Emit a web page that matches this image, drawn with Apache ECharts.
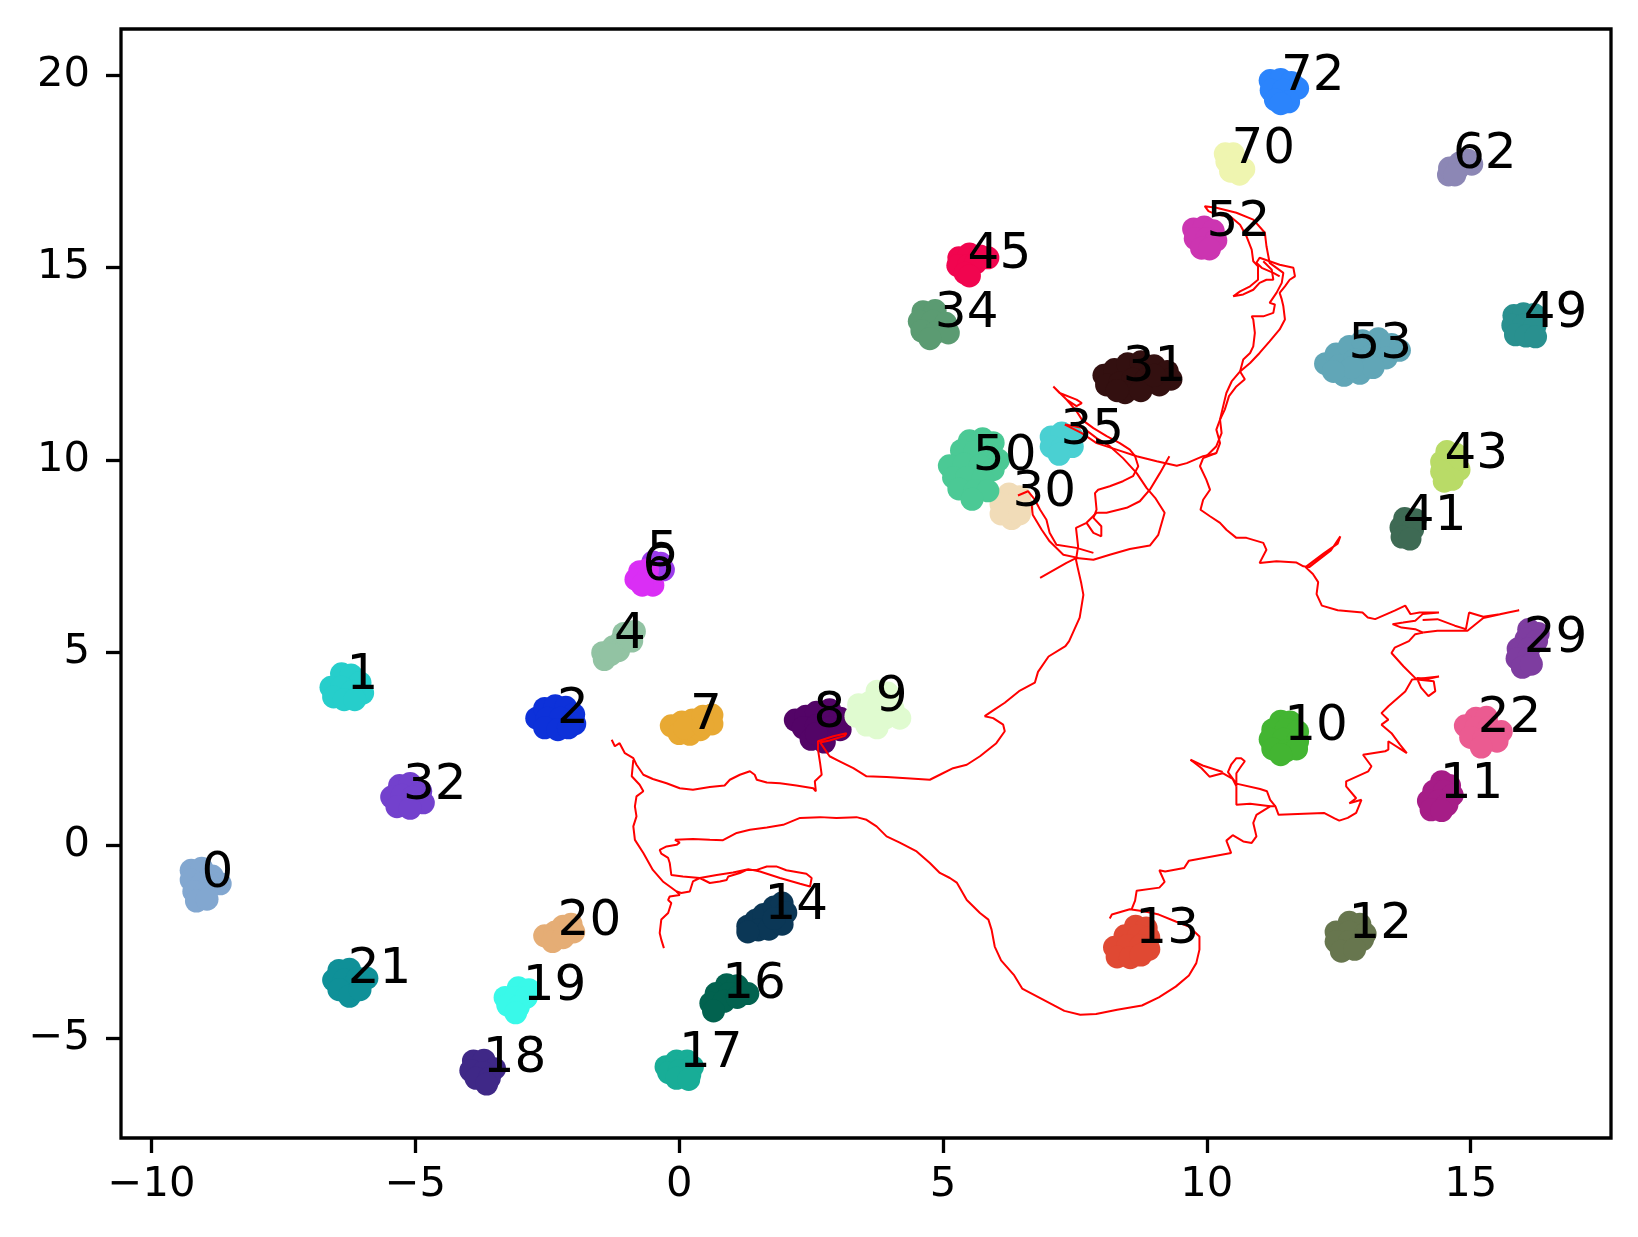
<!DOCTYPE html>
<html>
<head>
<meta charset="utf-8">
<script src="https://cdn.jsdelivr.net/npm/echarts@6/dist/echarts.min.js"></script>
<style>
html,body{margin:0;padding:0;background:#ffffff;}
#chart{width:1638px;height:1237px;}
</style>
</head>
<body>
<div id="chart"></div>
<script>
// ---------------- data ----------------
const xTicks = [-10, -5, 0, 5, 10, 15];
const yTicks = [-5, 0, 5, 10, 15, 20];

const clusterIds = [0,1,2,4,5,6,7,8,9,10,11,12,13,14,16,17,18,19,20,21,22,29,30,31,32,34,35,41,43,45,49,50,52,53,62,70,72];

const c0 = [[-9.25,-0.65],[-9.05,-0.6],[-8.85,-0.8],[-8.7,-1.0],[-9.25,-0.9],[-9.05,-1.0],[-8.9,-1.05],[-9.2,-1.2],[-9.0,-1.25],[-9.15,-1.45],[-8.95,-1.4]];
const c1 = [[-6.4,4.45],[-6.22,4.42],[-6.05,4.22],[-6.6,4.1],[-6.4,4.1],[-6.2,4.0],[-6.0,3.95],[-6.55,3.85],[-6.35,3.78],[-6.15,3.78]];
const c2 = [[-2.7,3.3],[-2.55,3.55],[-2.35,3.62],[-2.15,3.58],[-2.0,3.4],[-2.5,3.3],[-2.25,3.3],[-1.98,3.15],[-2.55,3.05],[-2.3,3.0],[-2.1,3.05]];
const c4 = [[-1.45,5.0],[-1.42,4.82],[-1.25,5.15],[-1.1,5.3],[-0.95,5.45],[-0.85,5.55],[-1.15,5.05],[-0.9,5.3],[-1.3,4.95],[-1.05,5.5]];
const c5 = [[-0.5,7.35],[-0.35,7.32],[-0.45,7.15],[-0.3,7.15]];
const c6 = [[-0.75,7.1],[-0.6,7.15],[-0.82,6.9],[-0.6,6.92],[-0.5,6.75],[-0.7,6.75]];
const c7 = [[-0.15,3.1],[0.05,3.2],[0.25,3.25],[0.45,3.35],[0.62,3.38],[0.62,3.15],[0.0,2.9],[0.2,2.88],[0.4,3.0],[0.1,3.05],[0.45,3.1]];
const c8 = [[2.2,3.25],[2.4,3.35],[2.6,3.45],[2.85,3.52],[3.05,3.3],[2.35,3.05],[2.6,3.1],[2.85,3.05],[3.05,3.0],[2.5,2.75],[2.75,2.68],[2.6,2.9]];
const c9 = [[3.75,4.0],[3.95,3.95],[3.4,3.65],[3.6,3.7],[3.85,3.6],[4.05,3.55],[3.35,3.35],[3.6,3.35],[3.9,3.3],[4.18,3.3],[3.75,3.05],[3.55,3.12]];
const c10 = [[11.4,3.22],[11.58,3.2],[11.25,3.0],[11.5,3.0],[11.72,2.95],[11.2,2.75],[11.45,2.75],[11.72,2.7],[11.25,2.5],[11.5,2.45],[11.7,2.5],[11.4,2.35]];
const c11 = [[14.45,1.65],[14.6,1.55],[14.3,1.4],[14.5,1.4],[14.65,1.3],[14.2,1.15],[14.4,1.15],[14.55,1.05],[14.25,0.92],[14.45,0.9]];
const c12 = [[12.7,-2.0],[12.9,-2.05],[12.45,-2.25],[12.7,-2.25],[13.0,-2.3],[12.45,-2.5],[12.7,-2.5],[12.95,-2.45],[12.55,-2.75],[12.8,-2.7]];
const c13 = [[8.65,-2.1],[8.85,-2.15],[8.45,-2.35],[8.7,-2.35],[8.9,-2.4],[8.25,-2.65],[8.5,-2.6],[8.75,-2.6],[8.9,-2.7],[8.3,-2.9],[8.55,-2.92],[8.75,-2.85]];
const c14 = [[1.3,-2.1],[1.45,-1.95],[1.6,-1.8],[1.8,-1.6],[1.95,-1.5],[2.02,-1.75],[1.5,-2.2],[1.7,-2.18],[1.95,-2.05],[1.8,-1.9],[1.3,-2.25]];
const c16 = [[0.9,-3.62],[1.1,-3.65],[1.3,-3.85],[0.7,-3.85],[0.95,-3.85],[0.6,-4.1],[0.85,-4.05],[1.1,-3.95],[0.65,-4.3]];
const c17 = [[-0.25,-5.75],[-0.05,-5.6],[0.15,-5.6],[0.25,-5.75],[-0.2,-5.9],[0.0,-5.85],[0.2,-5.95],[-0.05,-6.05],[0.18,-6.08]];
const c18 = [[-3.9,-5.6],[-3.7,-5.58],[-3.5,-5.8],[-3.95,-5.85],[-3.72,-5.9],[-3.85,-6.05],[-3.6,-6.05],[-3.65,-6.2]];
const c19 = [[-3.05,-3.7],[-2.85,-3.75],[-3.3,-3.95],[-3.1,-3.95],[-2.9,-3.95],[-3.25,-4.15],[-3.05,-4.2],[-3.1,-4.35]];
const c20 = [[-2.55,-2.35],[-2.35,-2.25],[-2.2,-2.1],[-2.05,-2.05],[-2.0,-2.25],[-2.4,-2.5],[-2.2,-2.4]];
const c21 = [[-6.45,-3.25],[-6.25,-3.22],[-6.55,-3.5],[-6.35,-3.5],[-6.1,-3.45],[-5.92,-3.45],[-6.45,-3.75],[-6.25,-3.92],[-6.05,-3.75]];
const c22 = [[15.1,3.3],[15.3,3.32],[14.9,3.1],[15.1,3.05],[15.35,3.05],[15.58,2.95],[15.0,2.8],[15.25,2.75],[15.5,2.7],[15.2,2.55]];
const c29 = [[16.1,5.6],[16.28,5.5],[16.05,5.35],[16.25,5.3],[15.9,5.1],[16.1,5.1],[15.88,4.85],[16.1,4.85],[15.98,4.62],[16.15,4.7]];
const c30 = [[6.25,9.12],[6.45,9.05],[6.1,8.85],[6.35,8.85],[6.5,8.8],[6.1,8.6],[6.3,8.48],[6.45,8.6]];
const c31 = [[8.05,12.2],[8.25,12.35],[8.5,12.5],[8.75,12.55],[9.0,12.45],[9.25,12.3],[9.32,12.1],[8.1,11.95],[8.35,12.0],[8.6,12.1],[8.85,12.1],[9.1,11.95],[8.45,11.75],[8.75,11.8],[8.3,11.8],[9.0,12.2]];
const c32 = [[-5.3,1.55],[-5.1,1.6],[-4.9,1.4],[-5.45,1.25],[-5.25,1.3],[-5.05,1.25],[-4.85,1.1],[-5.35,1.0],[-5.1,0.96]];
const c34 = [[4.62,13.85],[4.85,13.88],[4.55,13.6],[4.8,13.6],[5.05,13.55],[4.6,13.35],[4.85,13.3],[5.1,13.3],[4.75,13.15]];
const c35 = [[7.05,10.6],[7.25,10.7],[7.45,10.6],[7.05,10.35],[7.25,10.3],[7.45,10.35],[7.2,10.15]];
const c41 = [[13.75,8.48],[13.95,8.45],[13.68,8.25],[13.9,8.2],[13.7,8.0],[13.85,7.95]];
const c43 = [[14.55,10.22],[14.72,10.15],[14.45,9.95],[14.65,9.9],[14.78,9.75],[14.45,9.7],[14.65,9.5],[14.5,9.45]];
const c45 = [[5.3,15.25],[5.5,15.35],[5.7,15.3],[5.85,15.25],[5.28,15.05],[5.48,15.05],[5.62,15.12],[5.42,14.85],[5.5,14.78]];
const c49 = [[15.82,13.75],[16.0,13.8],[16.2,13.78],[15.8,13.5],[16.0,13.5],[16.22,13.48],[15.85,13.25],[16.05,13.22],[16.23,13.2]];
const c50 = [[5.5,10.5],[5.75,10.55],[5.95,10.45],[5.35,10.25],[5.6,10.2],[5.9,10.2],[6.05,10.0],[5.12,9.85],[5.4,9.9],[5.7,9.85],[5.95,9.75],[5.2,9.55],[5.45,9.55],[5.75,9.5],[5.3,9.25],[5.6,9.2],[5.85,9.2],[5.55,8.98]];
const c52 = [[9.75,16.0],[9.95,16.05],[10.12,15.95],[9.78,15.75],[10.0,15.75],[10.17,15.7],[9.9,15.5],[10.05,15.48]];
const c53 = [[12.25,12.5],[12.45,12.75],[12.7,12.95],[12.95,13.1],[13.25,13.15],[13.5,13.0],[13.65,12.85],[12.5,12.45],[12.8,12.6],[13.1,12.7],[13.4,12.65],[12.6,12.2],[12.9,12.25],[13.15,12.4],[12.75,12.4],[12.4,12.3]];
const c62 = [[14.58,17.4],[14.6,17.58],[14.75,17.55],[14.8,17.72],[14.95,17.78],[15.02,17.68],[14.7,17.4]];
const c70 = [[10.35,17.95],[10.5,17.95],[10.38,17.75],[10.55,17.7],[10.45,17.5],[10.62,17.42],[10.7,17.55]];
const c72 = [[11.2,19.85],[11.4,19.88],[11.6,19.8],[11.72,19.65],[11.22,19.6],[11.45,19.6],[11.3,19.35],[11.55,19.3],[11.4,19.25]];

const clusterPoints = [c0,c1,c2,c4,c5,c6,c7,c8,c9,c10,c11,c12,c13,c14,c16,c17,c18,c19,c20,c21,c22,c29,c30,c31,c32,c34,c35,c41,c43,c45,c49,c50,c52,c53,c62,c70,c72];

// text anchor (left / baseline) of each cluster number
const labelPositions = [
  [-8.96,-1.05],[-6.21,4.07],[-2.22,3.2],[-1.14,5.15],[-0.52,7.28],[-0.6,6.91],[0.3,3.04],[2.64,3.09],[3.82,3.5],
  [11.56,2.77],[14.51,1.26],[12.78,-2.38],[8.74,-2.51],[1.71,-1.88],[0.91,-3.93],[0.09,-5.74],[-3.63,-5.87],
  [-2.87,-3.98],[-2.21,-2.3],[-6.19,-3.55],[15.23,2.96],[16.1,5.04],[6.41,8.83],[8.5,12.07],[-5.14,1.22],
  [4.94,13.49],[7.32,10.43],[13.81,8.22],[14.6,9.83],[5.56,15.02],[16.1,13.49],[5.66,9.78],[10.09,15.85],
  [12.78,12.68],[14.76,17.62],[10.56,17.73],[11.5,19.63]
];

// trajectory pieces
const trajA = [[-1.28,2.74],[-1.22,2.57],[-1.13,2.65],[-1.03,2.39],[-0.87,2.26],[-0.81,2.09],[-0.68,1.83],[-0.5,1.72],[-0.24,1.61],[0.01,1.48],[0.26,1.44],[0.58,1.51],[0.86,1.55],[0.96,1.70],[1.15,1.83],[1.34,1.92],[1.43,1.83],[1.47,1.70],[1.66,1.63],[1.91,1.61],[2.22,1.55],[2.54,1.48],[2.59,1.40],[2.57,1.66],[2.70,1.83],[2.67,2.13],[2.63,2.48],[2.63,2.70],[2.92,2.83],[3.17,2.91],[3.14,2.84],[2.85,2.72],[2.67,2.67],[2.85,2.31],[3.04,2.18],[3.30,2.0],[3.55,1.79],[3.93,1.77],[4.31,1.74],[4.75,1.70],[4.94,1.83],[5.19,2.0],[5.45,2.09],[5.70,2.31],[6.01,2.65],[6.17,2.96],[6.14,3.13],[5.95,3.30],[5.79,3.35],[5.93,3.48],[6.17,3.70],[6.44,4.0],[6.74,4.22],[6.8,4.5],[7.0,4.9],[7.32,5.17],[7.39,5.30],[7.59,5.91],[7.66,6.5],[7.62,6.8],[7.55,7.22],[7.52,7.41],[7.56,7.76],[7.52,8.24],[7.72,8.37],[7.91,8.63],[8.1,8.63],[8.48,8.76],[8.73,8.93],[8.92,9.23],[9.11,9.66],[9.29,10.1]];
const trajB = [[-0.87,2.22],[-0.9,1.79],[-0.75,1.57],[-0.68,1.40],[-0.81,1.27],[-0.84,1.01],[-0.81,0.75],[-0.87,0.49],[-0.84,0.14],[-0.68,-0.2],[-0.5,-0.64],[-0.31,-0.94],[-0.05,-1.2],[0.01,-1.29],[-0.18,-1.33],[-0.21,-1.42],[-0.15,-1.5],[-0.21,-1.76],[-0.34,-1.93],[-0.37,-2.28],[-0.34,-2.45],[-0.29,-2.67]];
const trajC = [[-0.05,-1.2],[0.04,-1.24],[0.2,-1.2],[0.26,-0.94],[0.39,-0.85],[0.58,-0.98],[0.77,-0.94],[0.9,-0.9],[0.93,-0.81],[1.15,-0.72],[1.28,-0.64],[1.47,-0.64],[1.66,-0.55],[1.84,-0.55],[2.03,-0.65],[2.41,-0.74],[2.51,-0.85],[2.48,-1.07],[2.29,-1.0],[1.91,-0.85],[1.53,-0.68],[1.31,-0.62],[1.02,-0.71],[0.71,-0.77],[0.39,-0.85],[0.07,-0.81],[-0.15,-0.77],[-0.18,-0.46],[-0.21,-0.33],[-0.34,-0.22],[-0.37,-0.12],[-0.24,-0.03],[-0.05,0.01],[0.01,0.07],[-0.08,0.14],[0.26,0.16],[0.58,0.14],[0.83,0.13],[1.09,0.32],[1.34,0.40],[1.66,0.46],[1.97,0.53],[2.29,0.71],[2.67,0.73],[2.98,0.71],[3.36,0.73],[3.55,0.66],[3.74,0.49],[3.93,0.23],[4.18,0.07],[4.5,-0.16],[4.75,-0.46],[4.94,-0.72],[5.13,-0.85],[5.26,-0.97],[5.45,-1.42],[5.7,-1.76],[5.86,-1.93],[5.92,-2.19],[5.98,-2.63],[6.1,-2.99],[6.35,-3.38],[6.5,-3.72],[6.86,-3.98],[7.3,-4.3],[7.6,-4.4],[7.9,-4.38],[8.3,-4.27],[8.77,-4.16],[9.09,-3.95],[9.41,-3.67],[9.66,-3.38],[9.8,-3.06],[9.86,-2.71],[9.86,-2.37],[9.66,-2.11],[9.41,-1.98],[9.09,-1.8],[8.83,-1.72],[8.54,-1.66],[8.2,-1.8],[8.16,-1.9]];
const trajD = [[8.57,-1.68],[8.64,-1.44],[8.67,-1.18],[9.1,-1.1],[9.2,-0.95],[9.1,-0.65],[9.21,-0.68],[9.57,-0.59],[9.66,-0.4],[10.46,-0.2],[10.37,0.12],[10.49,0.26],[10.69,0.1],[10.85,0.06],[10.94,0.23],[10.88,0.58],[10.94,0.79],[11.2,1.01],[11.3,1.01],[11.36,0.79],[11.84,0.82],[12.22,0.84],[12.42,0.70],[12.51,0.64],[12.67,0.71],[12.83,0.84],[12.93,1.18],[12.7,1.09],[12.83,1.22],[12.64,1.53],[12.64,1.66],[13.06,1.92],[13.12,2.05],[12.96,2.35],[13.38,2.44],[13.44,2.48],[13.44,2.7],[13.79,2.39],[13.66,2.61],[13.5,2.91],[13.31,3.13],[13.44,3.26],[13.31,3.43],[13.44,3.61],[13.76,3.99],[13.89,4.3],[14.4,4.38],[14.2,4.32],[13.98,4.34],[14.06,4.09],[14.2,3.87],[14.33,4.0],[14.3,4.26],[13.98,4.3],[13.73,4.64],[13.5,4.99],[13.56,5.13],[13.83,5.3],[13.95,5.48],[14.1,5.52]];
const trajE = [[14.1,5.52],[13.95,5.61],[13.69,5.65],[13.52,5.74],[13.72,5.78],[13.95,5.83],[14.09,6.0],[14.4,6.04],[14.03,6.04],[13.86,6.0],[13.76,6.22],[13.56,6.09],[13.19,5.87],[13.05,5.91],[12.95,6.04],[12.48,6.10],[12.18,6.22],[12.08,6.52],[12.11,6.83],[12.01,7.04],[11.87,7.22],[12.21,7.57],[12.48,7.83],[12.53,8.02],[12.35,7.65],[11.94,7.22],[11.83,7.24],[11.7,7.34],[11.32,7.37],[11.0,7.33],[11.13,7.67],[11.07,7.85],[10.75,7.98],[10.56,7.98],[10.37,8.19],[10.25,8.37],[10.06,8.54],[9.88,8.71],[9.93,8.97],[10.06,9.23],[9.99,9.49],[9.87,9.84],[9.93,10.05],[10.18,10.18]];
const trajF = [[14.1,5.52],[14.37,5.57],[14.94,5.57],[15.24,5.9],[15.71,6.04],[15.92,6.1],[15.55,6.0],[15.24,5.93],[14.97,6.04],[14.91,5.61],[14.7,5.7],[14.37,5.87],[14.09,5.85]];
const trajG = [[7.31,10.92],[7.63,10.7],[7.91,10.44],[8.29,10.27],[8.67,10.1],[9.05,9.97],[9.43,9.85],[9.62,9.92],[9.93,10.1],[10.18,10.18],[10.25,10.44],[10.18,10.79],[10.25,11.05],[10.31,11.4],[10.37,11.74],[10.47,12.04],[10.63,12.3],[10.82,12.52],[11.0,12.78],[11.19,13.08],[11.38,13.39],[11.48,13.65],[11.45,13.99],[11.42,14.17],[11.38,14.34],[11.48,14.51],[11.57,14.68],[11.67,14.77],[11.64,14.99],[11.38,15.07],[11.19,15.16],[11.0,15.25],[10.94,15.12],[11.04,14.99],[11.26,14.86],[11.38,14.77]];
const trajH = [[9.99,10.1],[10.18,10.36],[10.28,10.7],[10.25,11.05],[10.34,11.31],[10.42,11.66],[10.56,11.91],[10.72,12.1],[10.63,12.3],[10.69,12.61],[10.82,12.78],[10.88,12.95],[10.91,13.3],[10.88,13.65],[10.85,13.73],[11.07,13.73],[11.26,13.82],[11.29,14.04],[11.19,14.08],[11.32,14.34],[11.42,14.6],[11.45,14.86],[11.19,15.12],[11.13,15.55],[11.1,15.9],[10.88,16.24],[10.56,16.42],[10.18,16.55],[9.96,16.59],[10.03,16.46],[10.18,16.37],[10.44,16.33],[10.63,16.11],[10.75,15.81],[10.85,15.46],[10.88,15.16],[10.97,15.03],[10.97,14.68],[10.82,14.51],[10.63,14.38],[10.5,14.25],[10.69,14.3],[10.88,14.42],[11.0,14.6],[11.13,14.68],[11.26,14.68],[11.23,14.94],[11.07,15.16]];
const trajI = [[6.84,6.94],[7.34,7.33],[7.53,7.46],[7.85,7.41],[8.16,7.54],[8.54,7.69],[8.92,7.78],[9.08,8.06],[9.2,8.63],[9.02,9.02],[8.86,9.27],[8.67,9.66],[8.41,10.05],[8.16,10.36],[7.91,10.57],[7.66,10.83],[7.31,10.92]];
const trajJ = [[7.72,8.37],[7.85,8.11],[8.0,8.02],[8.0,8.28],[7.85,8.5],[7.91,8.71],[7.88,9.14],[7.94,9.23],[8.16,9.32],[8.41,9.45],[8.6,9.58],[8.7,9.84],[8.64,10.1],[8.54,10.27],[8.35,10.44],[8.1,10.62],[7.85,10.83],[7.63,11.05],[7.53,11.27],[7.34,11.57],[7.09,11.91],[7.21,11.74],[7.53,11.57],[7.63,11.48],[7.53,11.4],[7.34,11.57]];
const trajK = [[6.42,9.08],[6.61,9.19],[6.74,8.97],[6.84,8.71],[6.96,8.45],[7.02,8.11],[7.15,7.80],[7.53,7.72],[7.85,7.59]];
const trajL = [[6.68,8.84],[6.70,8.58],[6.87,8.19],[7.02,7.89],[7.28,7.54],[7.56,7.46]];
const trajM = [[9.69,2.22],[9.9,2.0],[10.05,1.78],[10.3,1.87],[10.49,1.72],[10.56,1.53],[10.56,1.87],[10.65,2.05],[10.72,2.18],[10.65,2.26],[10.56,2.26],[10.46,2.09],[10.4,1.9],[10.56,1.6],[11.01,1.46],[11.14,1.4],[11.2,1.18],[11.3,1.01]];
const trajN = [[9.69,2.22],[9.92,2.07],[10.3,1.9]];
const trajO = [[10.56,1.53],[10.56,1.05],[10.82,1.08],[11.2,1.01]];

const trajectory = [trajA,trajB,trajC,trajD,trajE,trajF,trajG,trajH,trajI,trajJ,trajK,trajL,trajM,trajN,trajO];

// ---------------- styles ----------------
const palette = ['#82a7d0','#26cecb','#0d31d9','#92c3a3','#9a3bea','#da2ef5','#e8a933','#530467','#e0fbd0',
  '#43b532','#a61d87','#67764e','#e04933','#0b3756','#02624f','#18ad97','#3f2887','#39f9e9','#e5ad75',
  '#0f9098','#eb5b91','#7e3da0','#f1dcb8','#331010','#7341cd','#5b9b72','#4ad0d2','#3e6a54','#b9db67',
  '#f1054f','#29908f','#4bc995','#cc35b1','#61a6b7','#8c87b5','#eff5b0','#2b84fc'];

const FONT = 'DejaVu Sans';
const fmt = v => (v < 0 ? '\u2212' + Math.abs(v) : String(v));

const series = [];
clusterIds.forEach((id, i) => {
  series.push({
    type: 'scatter',
    name: 'c' + id,
    data: clusterPoints[i],
    symbol: 'circle',
    symbolSize: 23,
    itemStyle: { color: palette[i], opacity: 1 },
    silent: true,
    z: 2
  });
});
trajectory.forEach((seg, k) => {
  series.push({
    type: 'line',
    name: 'traj' + k,
    data: seg,
    symbol: 'none',
    showSymbol: false,
    smooth: false,
    lineStyle: { color: '#ff0000', width: 2 },
    silent: true,
    z: 3
  });
});
series.push({
  type: 'scatter',
  name: 'labels',
  data: labelPositions.map((p, i) => ({ value: p, name: String(clusterIds[i]) })),
  symbolSize: 1,
  itemStyle: { color: 'rgba(0,0,0,0)' },
  label: {
    show: true,
    formatter: '{b}',
    position: [0.5, 0.5],
    align: 'left',
    verticalAlign: 'bottom',
    offset: [-5, 13],
    fontFamily: FONT,
    fontSize: 50,
    color: '#000000',
    opacity: 1
  },
  silent: true,
  z: 5
});

const chart = echarts.init(document.getElementById('chart'), null, { renderer: 'canvas' });
chart.setOption({
  animation: false,
  backgroundColor: '#ffffff',
  grid: {
    left: 121, top: 29, right: 27, bottom: 99,
    show: true, borderColor: '#000', borderWidth: 3.3, backgroundColor: 'transparent',
    containLabel: false
  },
  xAxis: {
    type: 'value', min: -10.58, max: 17.66,
    axisLine: { show: false, onZero: false },
    splitLine: { show: false },
    axisTick: { show: true, customValues: xTicks, length: 15, inside: false, lineStyle: { color: '#000', width: 3.3 } },
    axisLabel: { show: true, customValues: xTicks, formatter: fmt, fontFamily: FONT, fontSize: 41.7, color: '#000', margin: 26 }
  },
  yAxis: {
    type: 'value', min: -7.6, max: 21.19,
    axisLine: { show: false, onZero: false },
    splitLine: { show: false },
    axisTick: { show: true, customValues: yTicks, length: 15, inside: false, lineStyle: { color: '#000', width: 3.3 } },
    axisLabel: { show: true, customValues: yTicks, formatter: fmt, fontFamily: FONT, fontSize: 41.7, color: '#000', margin: 31 }
  },
  series: series
});
</script>
</body>
</html>
